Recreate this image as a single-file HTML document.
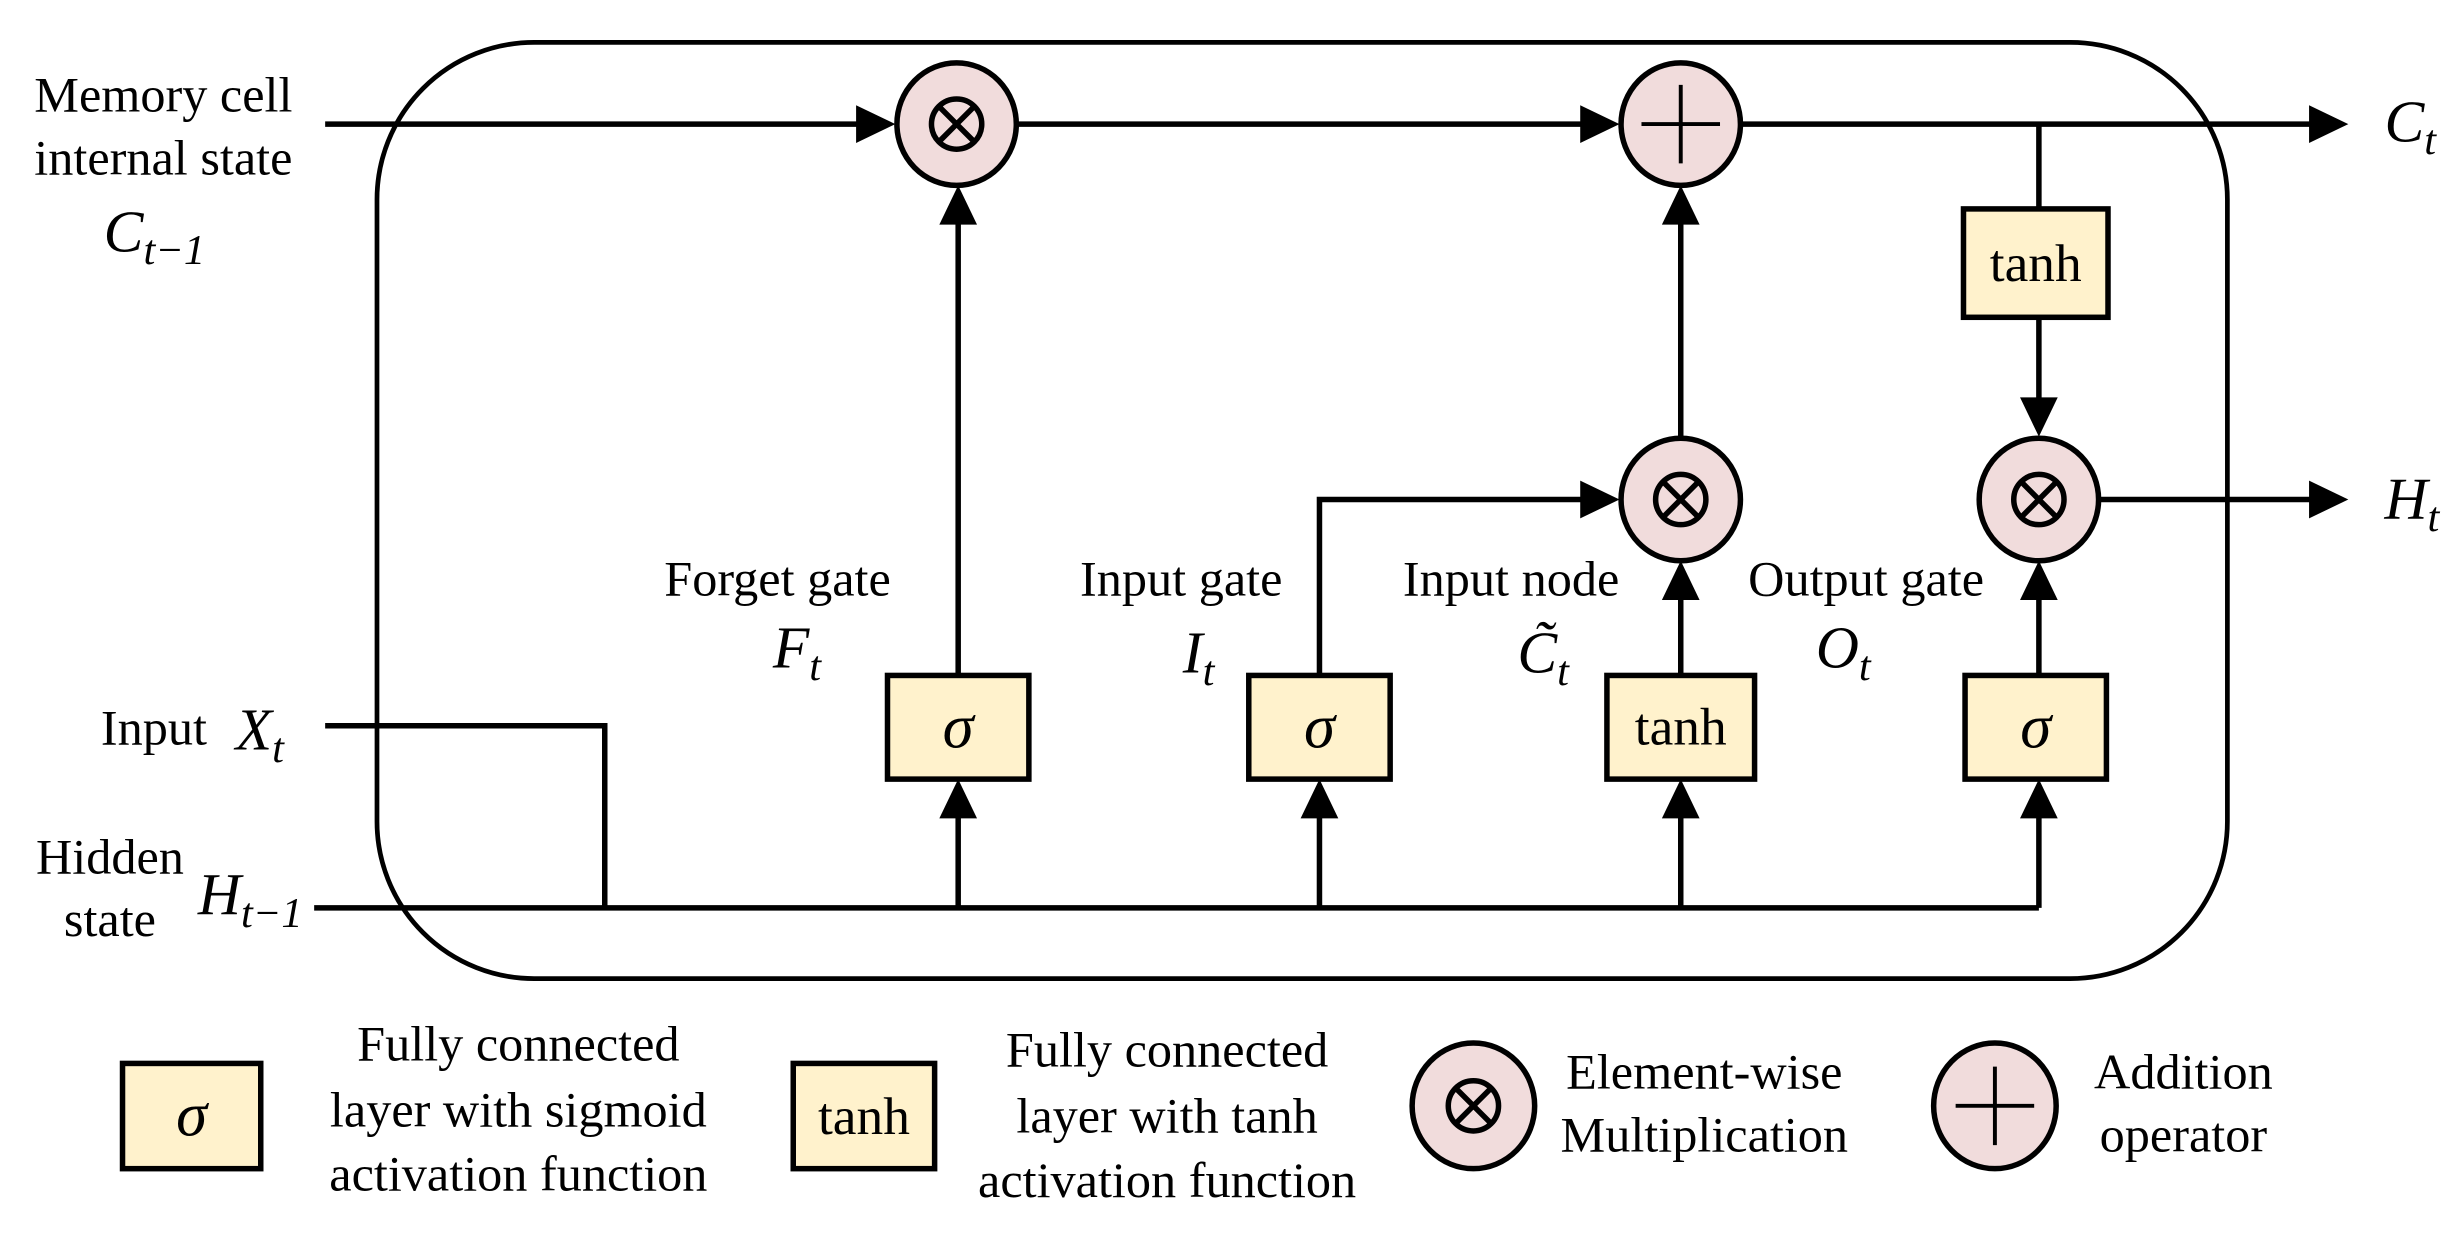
<!DOCTYPE html>
<html><head><meta charset="utf-8"><style>html,body{margin:0;padding:0;background:#fff}svg{display:block}text{font-family:"Liberation Serif","DejaVu Serif",serif}</style></head>
<body>
<svg width="2463" height="1237" viewBox="0 0 1568 787.5" preserveAspectRatio="none" xmlns="http://www.w3.org/2000/svg">
<g fill="none" stroke="#000" stroke-width="3.5">
<rect x="240" y="27" width="1178" height="596" rx="100" ry="100" stroke-width="3"/>
<line x1="207" y1="79" x2="552" y2="79"/>
<line x1="648" y1="79" x2="1012" y2="79"/>
<line x1="1109" y1="79" x2="1472" y2="79"/>
<line x1="1298" y1="79" x2="1298" y2="133"/>
<line x1="1298" y1="202" x2="1298" y2="262"/>
<line x1="1070" y1="278" x2="1070" y2="136"/>
<line x1="610" y1="430" x2="610" y2="136"/>
<polyline points="840,430 840,318 1012,318"/>
<line x1="1070" y1="430" x2="1070" y2="375"/>
<line x1="1298" y1="430" x2="1298" y2="375"/>
<line x1="1337" y1="318" x2="1472" y2="318"/>
<line x1="200" y1="578" x2="1298" y2="578"/>
<polyline points="207,462 385,462 385,578"/>
<line x1="610" y1="578" x2="610" y2="514"/>
<line x1="840" y1="578" x2="840" y2="514"/>
<line x1="1070" y1="578" x2="1070" y2="514"/>
<line x1="1298" y1="578" x2="1298" y2="514"/>
</g>
<g fill="#000">
<polygon points="570,79 545,67 545,91"/>
<polygon points="1031,79 1006,67 1006,91"/>
<polygon points="1495,79 1470,67 1470,91"/>
<polygon points="1495,318 1470,306 1470,330"/>
<polygon points="1031,318 1006,306 1006,330"/>
<polygon points="1298,278 1286,253 1310,253"/>
<polygon points="610,118 598,143 622,143"/>
<polygon points="1070,118 1058,143 1082,143"/>
<polygon points="1070,357 1058,382 1082,382"/>
<polygon points="1298,357 1286,382 1310,382"/>
<polygon points="610,496 598,521 622,521"/>
<polygon points="840,496 828,521 852,521"/>
<polygon points="1070,496 1058,521 1082,521"/>
<polygon points="1298,496 1286,521 1310,521"/>
</g>
<g stroke="#000" stroke-width="3.5" fill="#f1dcdc">
<ellipse cx="609" cy="79" rx="38" ry="39"/>
<ellipse cx="1070" cy="79" rx="38" ry="39"/>
<ellipse cx="1070" cy="318" rx="38" ry="39"/>
<ellipse cx="1298" cy="318" rx="38" ry="39"/>
<ellipse cx="938" cy="704" rx="39" ry="40"/>
<ellipse cx="1270" cy="704" rx="39" ry="40"/>
</g>
<g stroke="#000" stroke-width="3.5" fill="none">
<circle cx="609" cy="79" r="16"/><path d="M598 68L620 90M620 68L598 90"/>
<circle cx="1070" cy="318" r="16"/><path d="M1059 307L1081 329M1081 307L1059 329"/>
<circle cx="1298" cy="318" r="16"/><path d="M1287 307L1309 329M1309 307L1287 329"/>
<circle cx="938" cy="704" r="16"/><path d="M927 693L949 715M949 693L927 715"/>
<path d="M1045 79H1095M1070 54V104" stroke-width="2.5"/>
<path d="M1245 704H1295M1270 679V729" stroke-width="2.5"/>
</g>
<g stroke="#000" stroke-width="3.5" fill="#fff2cc">
<rect x="565" y="430" width="90" height="66"/>
<rect x="795" y="430" width="90" height="66"/>
<rect x="1023" y="430" width="94" height="66"/>
<rect x="1251" y="430" width="90" height="66"/>
<rect x="1250" y="133" width="92" height="69"/>
<rect x="78" y="677" width="88" height="67"/>
<rect x="505" y="677" width="90" height="67"/>
</g>
<g font-size="34" text-anchor="middle" fill="#000">
<text x="610" y="476" font-style="italic" font-size="40">σ</text>
<text x="840" y="476" font-style="italic" font-size="40">σ</text>
<text x="1296" y="476" font-style="italic" font-size="40">σ</text>
<text x="122" y="723" font-style="italic" font-size="40">σ</text>
<text x="1070" y="474">tanh</text>
<text x="1296" y="179">tanh</text>
<text x="550" y="722">tanh</text>
</g>
<g font-size="32" fill="#000" text-anchor="middle">
<text x="104" y="71">Memory cell</text>
<text x="104" y="111">internal state</text>
<text x="495" y="379">Forget gate</text>
<text x="752" y="379">Input gate</text>
<text x="962" y="379">Input node</text>
<text x="1188" y="379">Output gate</text>
<text x="98" y="474">Input</text>
<text x="70" y="556">Hidden</text>
<text x="70" y="596">state</text>
<text x="330" y="675">Fully connected</text>
<text x="330" y="717">layer with sigmoid</text>
<text x="330" y="758">activation function</text>
<text x="743" y="679">Fully connected</text>
<text x="743" y="721">layer with tanh</text>
<text x="743" y="762">activation function</text>
<text x="1085" y="693">Element-wise</text>
<text x="1085" y="733">Multiplication</text>
<text x="1390" y="693">Addition</text>
<text x="1390" y="733">operator</text>
</g>
<g font-size="38" font-style="italic" fill="#000">
<text x="66" y="160">C<tspan font-size="27" dy="8">t−1</tspan></text>
<text x="150" y="477">X<tspan font-size="27" dy="8">t</tspan></text>
<text x="126" y="582">H<tspan font-size="27" dy="8">t−1</tspan></text>
<text x="492" y="425">F<tspan font-size="27" dy="8">t</tspan></text>
<text x="753" y="428">I<tspan font-size="27" dy="8">t</tspan></text>
<text x="966" y="428">C̃<tspan font-size="27" dy="8">t</tspan></text>
<text x="1156" y="425">O<tspan font-size="27" dy="8">t</tspan></text>
<text x="1518" y="90">C<tspan font-size="27" dy="8">t</tspan></text>
<text x="1518" y="330">H<tspan font-size="27" dy="8">t</tspan></text>
</g>
</svg>
</body></html>
